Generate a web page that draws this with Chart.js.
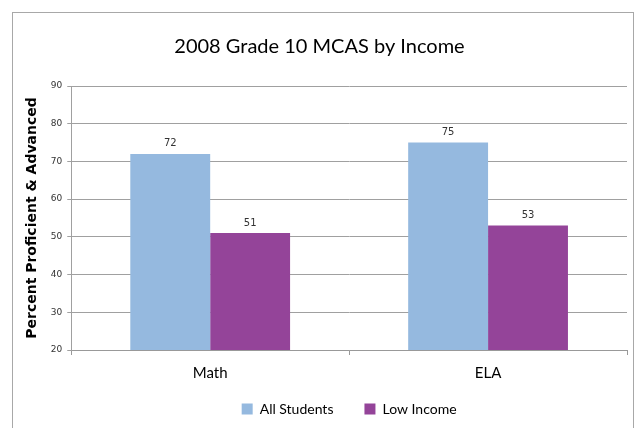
<!DOCTYPE html>
<html>
<head>
<meta charset="utf-8">
<script src="https://cdn.jsdelivr.net/npm/chart.js@4.4.1/dist/chart.umd.min.js"></script>
<style>
  html, body { margin: 0; padding: 0; background: #fff; overflow: hidden; }
  #wrap { position: absolute; left: 0; top: 0; width: 634px; height: 428px; }
  #frame { position: absolute; left: 12px; top: 12px; width: 620px; height: 500px;
           border: 1px solid #a8a8a8; pointer-events: none; }
</style>
</head>
<body>
<div id="wrap"><canvas id="myChart" width="634" height="428"></canvas></div>
<div id="frame"></div>
<script>
const CATEGORIES = ["Math", "ELA"];
const ALL_STUDENTS = [72, 75];
const LOW_INCOME = [51, 53];
const SERIES_NAMES = ["All Students", "Low Income"];
const TITLE = "2008 Grade 10 MCAS by Income";
const Y_TITLE = "Percent Proficient & Advanced";

// values written on top of the bars
const barLabels = {
  id: "barLabels",
  afterDatasetsDraw(chart) {
    const c = chart.ctx;
    c.save();
    c.font = "10px 'DejaVu Sans'";
    c.fillStyle = "#333";
    c.textAlign = "center";
    c.textBaseline = "bottom";
    chart.data.datasets.forEach((ds, i) => {
      chart.getDatasetMeta(i).data.forEach((el, j) => {
        c.fillText(ds.data[j], el.x, el.y - 5);
      });
    });
    c.restore();
  },
};

// legend keeps its wide item gap but sits closer to the axis labels
const liftLegend = {
  id: "liftLegend",
  afterLayout(chart) {
    chart.legend.top -= 20;
  },
};

const ctx = document.getElementById("myChart");
new Chart(ctx, {
  type: "bar",
  data: {
    labels: CATEGORIES,
    datasets: [
      { label: SERIES_NAMES[0], data: ALL_STUDENTS, backgroundColor: "#95b9df" },
      { label: SERIES_NAMES[1], data: LOW_INCOME, backgroundColor: "#944499" },
    ],
  },
  options: {
    responsive: false,
    animation: false,
    devicePixelRatio: 1,
    layout: { padding: { top: 10, left: 12, right: 7, bottom: 0 } },
    datasets: { bar: { categoryPercentage: 0.575, barPercentage: 1.0 } },
    plugins: {
      title: {
        display: true,
        text: TITLE,
        color: "#000",
        font: { family: "Lato", size: 20, weight: "normal" },
        padding: { top: 25, bottom: 27 },
      },
      legend: {
        position: "bottom",
        fullSize: false,
        maxHeight: 37,
        labels: {
          boxWidth: 11,
          boxHeight: 11,
          padding: 31,
          color: "#000",
          font: { family: "Lato", size: 14 },
        },
      },
      tooltip: { enabled: false },
    },
    scales: {
      x: {
        grid: { drawOnChartArea: false, tickLength: 5, color: "#999" },
        border: { color: "#999" },
        ticks: { color: "#000", padding: 9, font: { family: "Lato", size: 15 } },
      },
      y: {
        min: 20,
        max: 90,
        ticks: { stepSize: 10, color: "#333", padding: 5, font: { family: "'DejaVu Sans'", size: 9 } },
        grid: { color: "#a0a0a0", tickLength: 4 },
        border: { color: "#a0a0a0" },
        title: {
          display: true,
          text: Y_TITLE,
          color: "#000",
          font: { family: "'DejaVu Sans'", size: 14, weight: "bold" },
          padding: { top: 12, bottom: 5 },
        },
      },
    },
  },
  plugins: [barLabels, liftLegend],
});
</script>
</body>
</html>
